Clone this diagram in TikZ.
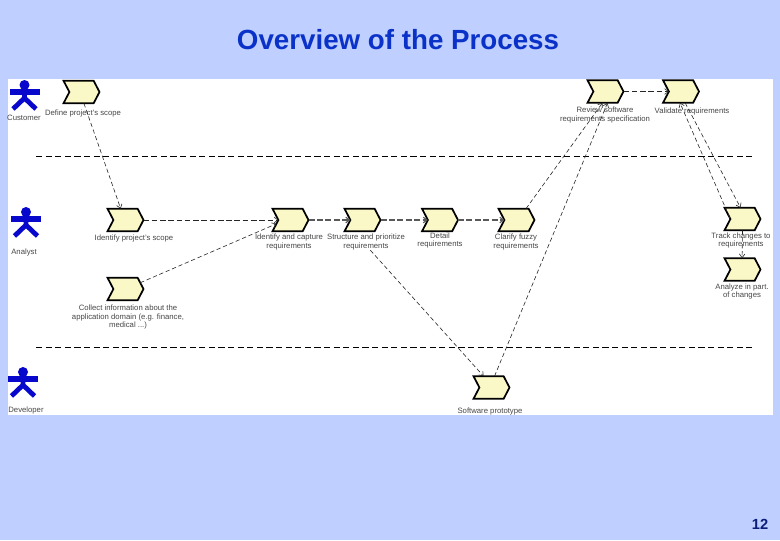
\documentclass[tikz,border=0pt]{standalone}
\usepackage{fontspec}
\setmainfont{Liberation Sans}
\usetikzlibrary{shapes.symbols,arrows.meta}
\definecolor{slidebg}{HTML}{BFCFFF}
\definecolor{chevfill}{HTML}{FBF8C8}
\definecolor{titleblue}{HTML}{0A32C8}
\definecolor{actorblue}{HTML}{0808CC}
\definecolor{pagenum}{HTML}{0A1E78}
\tikzset{
  chev/.style={signal,signal from=west,signal to=east,signal pointer angle=125,draw=black,line width=1.3pt,fill=chevfill,minimum width=27pt,minimum height=17pt,inner sep=0pt,outer sep=0pt},
  lab/.style={font=\fontsize{5.8pt}{6.6pt}\selectfont,text=black!72,align=center,inner sep=0pt},
  flow/.style={draw=black!85,line width=0.45pt,dash pattern=on 3.2pt off 2pt,-{Straight Barb[length=2.8pt,width=4.2pt]}},
  flowmain/.style={draw=black!65,line width=0.85pt,dash pattern=on 4.5pt off 1.8pt,-{Straight Barb[length=2.8pt,width=4.2pt]}},
  lane/.style={draw=black,line width=0.55pt,dash pattern=on 4.6pt off 2.6pt},
  actor/.pic={
    \fill[actorblue] (0,0) circle (5);
    \fill[actorblue] (-15,3.5) rectangle (15,9.5);
    \draw[actorblue,line width=3.6pt] (0,8) -- (0,15) (-11.5,24) -- (0,13) -- (11.5,24);
  }
}
\begin{document}
\begin{tikzpicture}[x=0.75pt,y=-0.75pt]
\useasboundingbox (0,0) rectangle (780,540);
\fill[slidebg] (0,0) rectangle (780,540);
\fill[white] (8,79) rectangle (773,415);
\node[font=\bfseries\fontsize{20.8pt}{23pt}\selectfont,text=titleblue,inner sep=0pt] (title) at (398,40) {Overview of the Process};
\node[font=\bfseries\fontsize{11pt}{13pt}\selectfont,text=pagenum,inner sep=0pt] (pageno) at (760,524) {12};

\pic at (24.5,85) {actor};
\pic at (26,212) {actor};
\pic at (23,372) {actor};
\node[lab] (lcust) at (24,118) {Customer};
\node[lab] (lanal) at (24,252) {Analyst};
\node[lab] (ldev) at (26,410) {Developer};

\coordinate (l1a) at (36,156); \coordinate (l1b) at (752,156);
\coordinate (l2a) at (36,347); \coordinate (l2b) at (752,347);
\draw[lane] (l1a) -- (l1b);
\draw[lane] (l2a) -- (l2b);

\node[chev] (def) at (81.5,92) {};
\node[chev] (idn) at (125.5,220) {};
\node[chev] (col) at (125.5,289) {};
\node[chev] (cap) at (290.5,220) {};
\node[chev] (str) at (362.5,220) {};
\node[chev] (det) at (440,220) {};
\node[chev] (cla) at (516.5,220) {};
\node[chev] (sof) at (491.5,387.5) {};
\node[chev] (rev) at (605.5,91.5) {};
\node[chev] (val) at (681,91.5) {};
\node[chev] (trk) at (742.5,219) {};
\node[chev] (ana) at (742.5,269.5) {};

\node[lab] (ldef) at (83,113) {Define project's scope};
\node[lab] (lidn) at (134,238) {Identify project's scope};
\node[lab] (lcol) at (128,317) {Collect information about the\\application domain (e.g. finance,\\medical ...)};
\node[lab] (lcap) at (289,242) {Identify and capture\\requirements};
\node[lab] (lstr) at (366,242) {Structure and prioritize\\requirements};
\node[lab] (ldet) at (440,240.5) {Detail\\requirements};
\node[lab] (lcla) at (516,242) {Clarify fuzzy\\requirements};
\node[lab] (lsof) at (490,411) {Software prototype};
\node[lab] (lrev) at (605,115) {Review software\\requirements specification};
\node[lab] (lval) at (692,111.5) {Validate requirements};
\node[lab] (ltrk) at (741,240.5) {Track changes to\\requirements};
\node[lab] (lana) at (742,291.5) {Analyze in part.\\of changes};

\draw[flow] (def.-78) -- (idn.113);
\draw[flow,dash pattern=on 4.2pt off 2pt] (idn.east) -- (cap.west);
\draw[flowmain] (cap.east) -- (str.west);
\draw[flowmain] (str.east) -- (det.west);
\draw[flowmain] (det.east) -- (cla.west);
\draw[flow] (col.23) -- (cap.195);
\draw[flow] (cla.50) -- (rev.-105);
\draw[flow] (sof.75) -- (rev.-80);
\draw[flow] (lstr.-62) -- (sof.125);
\draw[flow,dash pattern=on 4.2pt off 2pt] (rev.east) -- (val.west);
\draw[flow] (val.-70) -- (trk.100);
\draw[flow] (trk.175) -- (val.-95);
\draw[flow] (trk.-90) -- (ana.92);
\end{tikzpicture}
\end{document}
